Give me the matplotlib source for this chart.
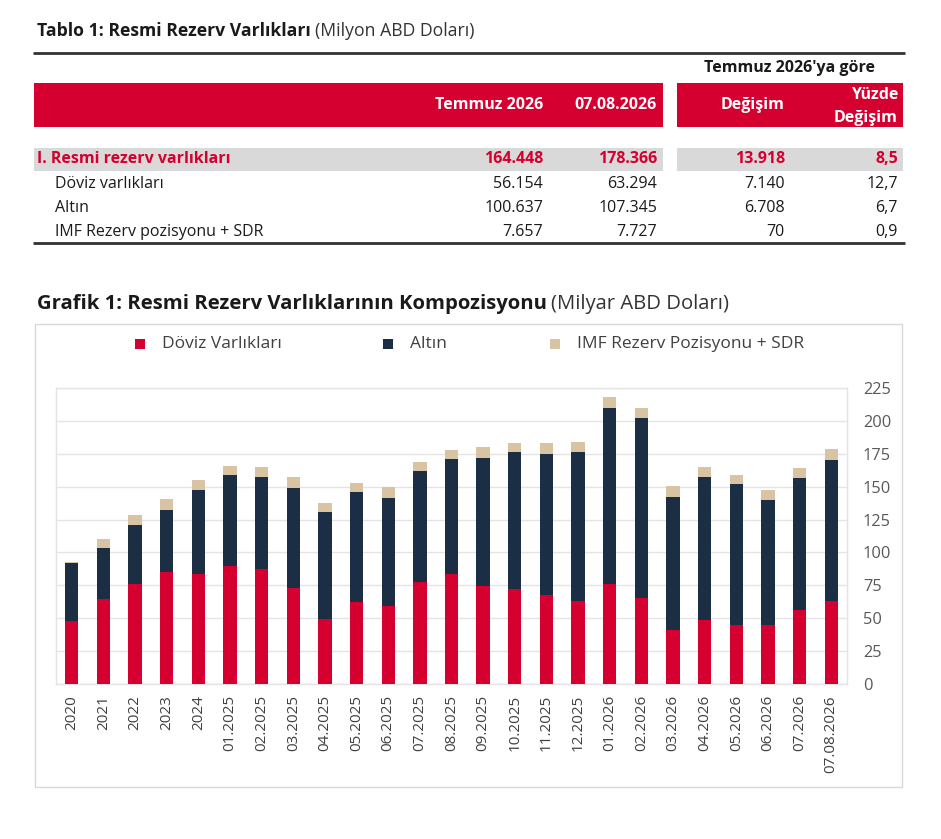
import matplotlib
matplotlib.use("Agg")
import matplotlib.pyplot as plt
from matplotlib.patches import Rectangle
import numpy as np

plt.rcParams['font.family'] = ['Open Sans', 'DejaVu Sans']

# ---------------- data ----------------
categories = ["2020", "2021", "2022", "2023", "2024",
              "01.2025", "02.2025", "03.2025", "04.2025", "05.2025", "06.2025",
              "07.2025", "08.2025", "09.2025", "10.2025", "11.2025", "12.2025",
              "01.2026", "02.2026", "03.2026", "04.2026", "05.2026", "06.2026",
              "07.2026", "07.08.2026"]
doviz = [48.2, 64.4, 75.8, 85.4, 83.4, 89.8, 87.5, 73.3, 49.4, 62.1, 59.3,
         77.6, 83.5, 74.5, 72.5, 67.4, 63.4, 76.3, 65.4, 41.3, 48.4, 45.1, 45.1,
         56.2, 63.3]
altin = [43.6, 38.8, 44.9, 47.0, 64.2, 68.9, 70.0, 75.5, 81.2, 83.7, 82.4,
         84.2, 87.4, 97.4, 103.5, 107.3, 112.6, 133.6, 136.7, 101.2, 109.3, 107.0, 94.6,
         100.6, 107.3]
imf = [1.0, 7.3, 7.8, 8.1, 7.6, 7.3, 7.3, 8.2, 7.3, 6.8, 8.4,
       7.3, 7.1, 8.1, 7.0, 8.3, 7.8, 8.1, 7.8, 8.1, 7.1, 7.1, 7.4,
       7.7, 7.7]
series_names = ["Döviz Varlıkları", "Altın", "IMF Rezerv Pozisyonu + SDR"]
y_ticks = [0, 25, 50, 75, 100, 125, 150, 175, 200, 225]

tbl_labels = ["I. Resmi rezerv varlıkları", "Döviz varlıkları", "Altın",
              "IMF Rezerv pozisyonu + SDR"]
tbl_temmuz = [164448, 56154, 100637, 7657]
tbl_0708 = [178366, 63294, 107345, 7727]
tbl_degisim = [13918, 7140, 6708, 70]
tbl_yuzde = [8.5, 12.7, 6.7, 0.9]
tbl_headers = ["Temmuz 2026", "07.08.2026", "Değişim", "Yüzde\nDeğişim"]

RED = "#D5002F"
NAVY = "#1C2E44"
TAN = "#D8C4A2"
GRAY_ROW = "#D9D9D9"
TXT = "#1A1A1A"
colors = [RED, NAVY, TAN]

def tr_int(v):
    return f"{v:,}".replace(",", ".")

def tr_dec(v):
    return f"{v:.1f}".replace(".", ",")

W, H = 941, 839
fig = plt.figure(figsize=(W / 100, H / 100), dpi=100)
fig.patch.set_facecolor("white")

bg = fig.add_axes([0, 0, 1, 1])
bg.set_xlim(0, W)
bg.set_ylim(H, 0)
bg.axis("off")

renderer = fig.canvas.get_renderer()

def two_part_title(x, y, bold, normal, size):
    t1 = bg.text(x, y, bold, fontsize=size, fontweight="bold", color=TXT,
                 va="center", ha="left")
    bb = t1.get_window_extent(renderer=renderer)
    x2 = bb.x1 + 4
    bg.text(x2, y, normal, fontsize=size, color="#333333", va="center", ha="left")

TS = 11.5  # table font size

# ---------------- table ----------------
two_part_title(37, 31, "Tablo 1: Resmi Rezerv Varlıkları", "(Milyon ABD Doları)", 12.7)
bg.plot([33, 905], [53, 53], color="#333333", lw=2, solid_capstyle="butt")
bg.text(790, 68, "Temmuz 2026'ya göre", fontsize=TS, fontweight="bold",
        color=TXT, ha="center", va="center")
bg.add_patch(Rectangle((34, 83), 629, 44, facecolor=RED, edgecolor="none"))
bg.add_patch(Rectangle((677, 83), 226, 44, facecolor=RED, edgecolor="none"))
col_right = [543, 657, 785, 898]
for i, h in enumerate(tbl_headers):
    if "\n" in h:
        a, b = h.split("\n")
        bg.text(col_right[i], 95, a, fontsize=TS, fontweight="bold", color="white",
                ha="right", va="center")
        bg.text(col_right[i], 118, b, fontsize=TS, fontweight="bold", color="white",
                ha="right", va="center")
    else:
        bg.text(col_right[i], 105, h, fontsize=TS, fontweight="bold", color="white",
                ha="right", va="center")

bg.add_patch(Rectangle((34, 148), 629, 23, facecolor=GRAY_ROW, edgecolor="none"))
bg.add_patch(Rectangle((677, 148), 226, 23, facecolor=GRAY_ROW, edgecolor="none"))
row_y = [159, 184, 208, 232]
for r in range(4):
    first = r == 0
    kw = dict(fontsize=TS, va="center",
              fontweight="bold" if first else "normal",
              color=RED if first else TXT)
    bg.text(37 if first else 55, row_y[r], tbl_labels[r], ha="left", **kw)
    vals = [tr_int(tbl_temmuz[r]), tr_int(tbl_0708[r]),
            tr_int(tbl_degisim[r]), tr_dec(tbl_yuzde[r])]
    for c, v in enumerate(vals):
        bg.text(col_right[c], row_y[r], v, ha="right", **kw)
bg.plot([33, 905], [243, 243], color="#333333", lw=2, solid_capstyle="butt")

# ---------------- chart ----------------
two_part_title(37, 304, "Grafik 1: Resmi Rezerv Varlıklarının Kompozisyonu",
               "(Milyar ABD Doları)", 14.6)
bg.add_patch(Rectangle((35, 324), 867, 463, facecolor="white",
                       edgecolor="#D9D9D9", lw=1))

leg_x = [135, 383, 550]
for i, name in enumerate(series_names):
    bg.add_patch(Rectangle((leg_x[i], 339), 10, 10, facecolor=colors[i],
                           edgecolor="none"))
    bg.text(leg_x[i] + 27, 344, name, fontsize=12.5, color="#404040",
            ha="left", va="center")

left, right, top, bottom = 56, 847, 388, 684
ax = fig.add_axes([left / W, 1 - bottom / H, (right - left) / W, (bottom - top) / H])
x = np.arange(len(categories))
d = np.array(doviz)
a = np.array(altin)
m = np.array(imf)
bw = 0.42
ax.bar(x, d, bw, color=RED, zorder=3)
ax.bar(x, a, bw, bottom=d, color=NAVY, zorder=3)
ax.bar(x, m, bw, bottom=d + a, color=TAN, zorder=3)
ax.set_xlim(-0.5, len(categories) - 0.5)
ax.set_ylim(0, 225)
ax.set_yticks(y_ticks)
ax.yaxis.tick_right()
ax.grid(axis="y", color="#E4E4E4", lw=1, zorder=0)
for s in ax.spines.values():
    s.set_color("#E4E4E4")
    s.set_linewidth(1)
ax.tick_params(axis="y", length=0, pad=11.5, labelsize=11.8, labelcolor="#595959")
ax.set_xticks(x)
ax.set_xticklabels(categories, rotation=90, fontsize=11, color="#404040")
ax.tick_params(axis="x", length=0, pad=8)
ax.set_facecolor("white")

fig.savefig("out.png", dpi=100, facecolor="white")
